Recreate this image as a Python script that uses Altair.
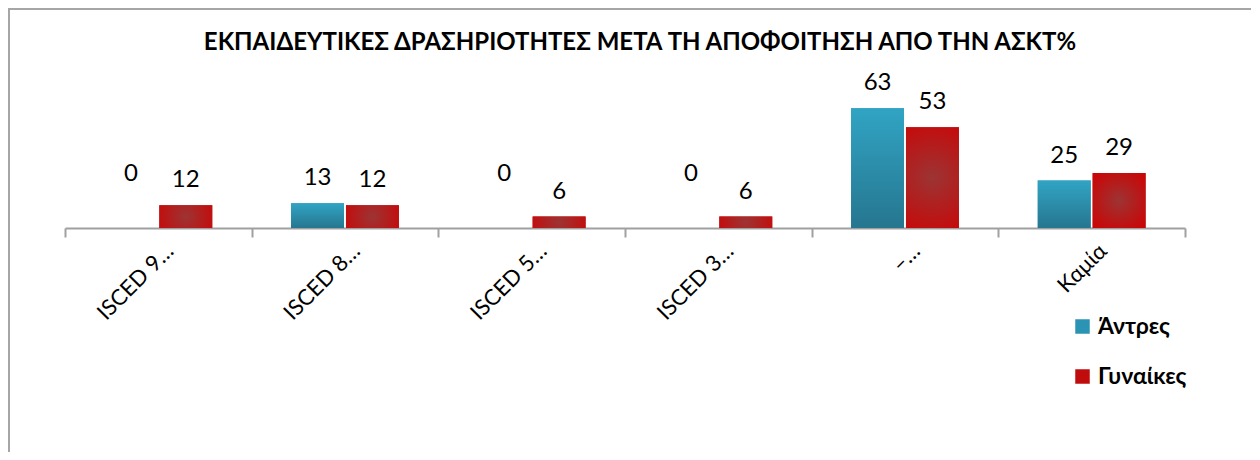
import altair as alt
import pandas as pd

categories = ["ISCED 9…", "ISCED 8…", "ISCED 5…", "ISCED 3…", "–…", "Καμία"]
men = [0, 13, 0, 0, 63, 25]
women = [12, 12, 6, 6, 53, 29]
series = ["Άντρες", "Γυναίκες"]
title = "ΕΚΠΑΙΔΕΥΤΙΚΕΣ ΔΡΑΣΗΡΙΟΤΗΤΕΣ ΜΕΤΑ ΤΗ ΑΠΟΦΟΙΤΗΣΗ ΑΠΟ ΤΗΝ ΑΣΚΤ%"

rows = []
for c, m, w in zip(categories, men, women):
    rows.append({"cat": c, "series": series[0], "value": m})
    rows.append({"cat": c, "series": series[1], "value": w})
df = pd.DataFrame(rows)

FONT = "Lato"
W, H = 1120, 133

xenc = alt.X("cat:N", sort=categories, title=None,
             scale=alt.Scale(paddingInner=0, paddingOuter=0),
             axis=alt.Axis(tickBand="extent", labelAngle=-45, labelAlign="right",
                           labelBaseline="top", labelOffset=4, labelPadding=3,
                           labelFontSize=22, labelFont=FONT, labelColor="#000000",
                           domainColor="#a0a0a0", domainWidth=2, tickColor="#a0a0a0",
                           tickWidth=2, tickSize=9, grid=False))
yscale = alt.Scale(domain=[0, 70], nice=False)
xoff = alt.XOffset("series:N", sort=series,
                   scale=alt.Scale(paddingInner=0.036, paddingOuter=0.718))

base = alt.Chart(df)

solid = base.mark_bar().encode(
    x=xenc,
    xOffset=xoff,
    y=alt.Y("value:Q", scale=yscale, axis=None),
    color=alt.Color("series:N", sort=series,
                    scale=alt.Scale(domain=series, range=["#2b93b3", "#c00c0c"]),
                    legend=alt.Legend(title=None, orient="none", legendX=1006, legendY=220,
                                      symbolType="square", symbolSize=210,
                                      symbolStrokeWidth=0, labelFontSize=23,
                                      labelFont=FONT, labelFontWeight="bold",
                                      labelColor="#000000", rowPadding=26,
                                      labelOffset=4)),
)

men_grad = alt.LinearGradient(gradient="linear",
                              stops=[alt.GradientStop(offset=0, color="#31a4c4"),
                                     alt.GradientStop(offset=1, color="#26768f")],
                              x1=0, x2=0, y1=0, y2=1)
women_grad = alt.RadialGradient(gradient="radial",
                                stops=[alt.GradientStop(offset=0, color="#9c3434"),
                                       alt.GradientStop(offset=1, color="#c80808")],
                                x1=0.5, y1=0.5, r1=0, x2=0.5, y2=0.5, r2=0.6)

men_bars = base.transform_filter(alt.datum.series == series[0]).mark_bar(color=men_grad).encode(
    x=alt.X("cat:N", sort=categories),
    xOffset=xoff,
    y=alt.Y("value:Q", scale=yscale),
)
women_bars = base.transform_filter(alt.datum.series == series[1]).mark_bar(color=women_grad).encode(
    x=alt.X("cat:N", sort=categories),
    xOffset=xoff,
    y=alt.Y("value:Q", scale=yscale),
)

labels = base.transform_calculate(
    labelY="datum.value == 0 ? 15.5 : datum.value"
).mark_text(font=FONT, fontSize=24, baseline="middle", dy=-25, color="#000000").encode(
    x=alt.X("cat:N", sort=categories),
    xOffset=xoff,
    y=alt.Y("labelY:Q", scale=yscale),
    text=alt.Text("value:Q"),
)

frame = alt.Chart(pd.DataFrame({"f": [0]})).mark_rect(
    fill=None, stroke="#a6a6a6", strokeWidth=2
).encode(
    x=alt.value(-56), x2=alt.value(1300),
    y=alt.value(-86), y2=alt.value(500),
)

chart = alt.layer(frame, solid, men_bars, women_bars, labels).properties(
    width=W, height=H,
    title=alt.TitleParams(title, font=FONT, fontSize=24, fontWeight="bold",
                          color="#000000", anchor="middle", offset=-47, dx=15),
    autosize=alt.AutoSizeParams(type="none"),
    padding={"left": 57, "top": 87, "right": 66, "bottom": 224},
).configure(background="#ffffff").configure_view(strokeWidth=0, stroke="transparent")

chart.save("out.html", embed_options={"renderer": "svg", "actions": False})
